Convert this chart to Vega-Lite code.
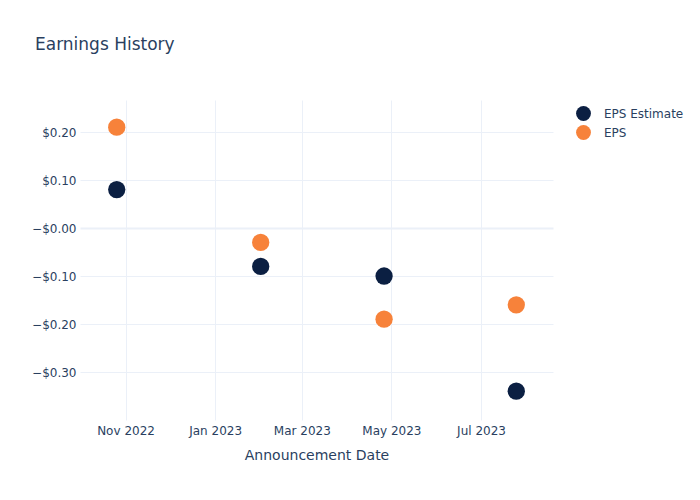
{
  "$schema": "https://vega.github.io/schema/vega-lite/v6.json",
  "autosize": "none",
  "width": 473,
  "height": 320,
  "padding": {"left": 80, "top": 100, "right": 147, "bottom": 80},
  "background": "white",
  "config": {
    "font": "DejaVu Sans",
    "view": {"stroke": null},
    "axis": {
      "labelColor": "#2a3f5f",
      "titleColor": "#2a3f5f",
      "labelFont": "DejaVu Sans",
      "titleFont": "DejaVu Sans",
      "labelFontSize": 12,
      "gridColor": "#ebf0f8",
      "gridWidth": 1,
      "domain": false,
      "ticks": false
    }
  },
  "title": {
    "text": "Earnings History",
    "anchor": "start",
    "frame": "group",
    "dx": -45,
    "offset": 33,
    "baseline": "alphabetic",
    "fontSize": 17,
    "fontWeight": "normal",
    "color": "#2a3f5f",
    "font": "DejaVu Sans"
  },
  "data": {
    "values": [
      {"date": "2022-10-26", "series": "EPS Estimate", "value": 0.08},
      {"date": "2023-02-01", "series": "EPS Estimate", "value": -0.08},
      {"date": "2023-04-26", "series": "EPS Estimate", "value": -0.10},
      {"date": "2023-07-25", "series": "EPS Estimate", "value": -0.34},
      {"date": "2022-10-26", "series": "EPS", "value": 0.21},
      {"date": "2023-02-01", "series": "EPS", "value": -0.03},
      {"date": "2023-04-26", "series": "EPS", "value": -0.19},
      {"date": "2023-07-25", "series": "EPS", "value": -0.16}
    ]
  },
  "mark": {"type": "point", "filled": true, "opacity": 1, "size": 300, "shape": "circle"},
  "encoding": {
    "x": {
      "field": "date",
      "type": "temporal",
      "title": "Announcement Date",
      "scale": {"domain": ["2022-10-01", "2023-08-19"]},
      "axis": {
        "format": "%b %Y",
        "tickCount": {"interval": "month", "step": 2},
        "labelPadding": 5,
        "titleFontSize": 14,
        "titleFontWeight": "normal",
        "titlePadding": 12
      }
    },
    "y": {
      "field": "value",
      "type": "quantitative",
      "title": null,
      "scale": {"domain": [-0.4, 0.2667], "nice": false, "zero": false},
      "axis": {
        "values": [-0.3, -0.2, -0.1, 0, 0.1, 0.2],
        "format": "$.2f",
        "labelExpr": "datum.value == 0 ? '−$0.00' : datum.label",
        "labelPadding": 4,
        "gridWidth": {"condition": {"test": "datum.value === 0", "value": 2}, "value": 1}
      }
    },
    "color": {
      "field": "series",
      "type": "nominal",
      "scale": {"domain": ["EPS Estimate", "EPS"], "range": ["#0b1f42", "#f7823a"]},
      "legend": {
        "title": null,
        "orient": "none",
        "legendX": 495,
        "legendY": 5,
        "symbolType": "circle",
        "symbolSize": 220,
        "symbolOpacity": 1,
        "labelFontSize": 12,
        "labelColor": "#2a3f5f",
        "labelFont": "DejaVu Sans",
        "rowPadding": 3,
        "labelOffset": 12
      }
    },
    "order": {"field": "series", "sort": "descending"}
  }
}
